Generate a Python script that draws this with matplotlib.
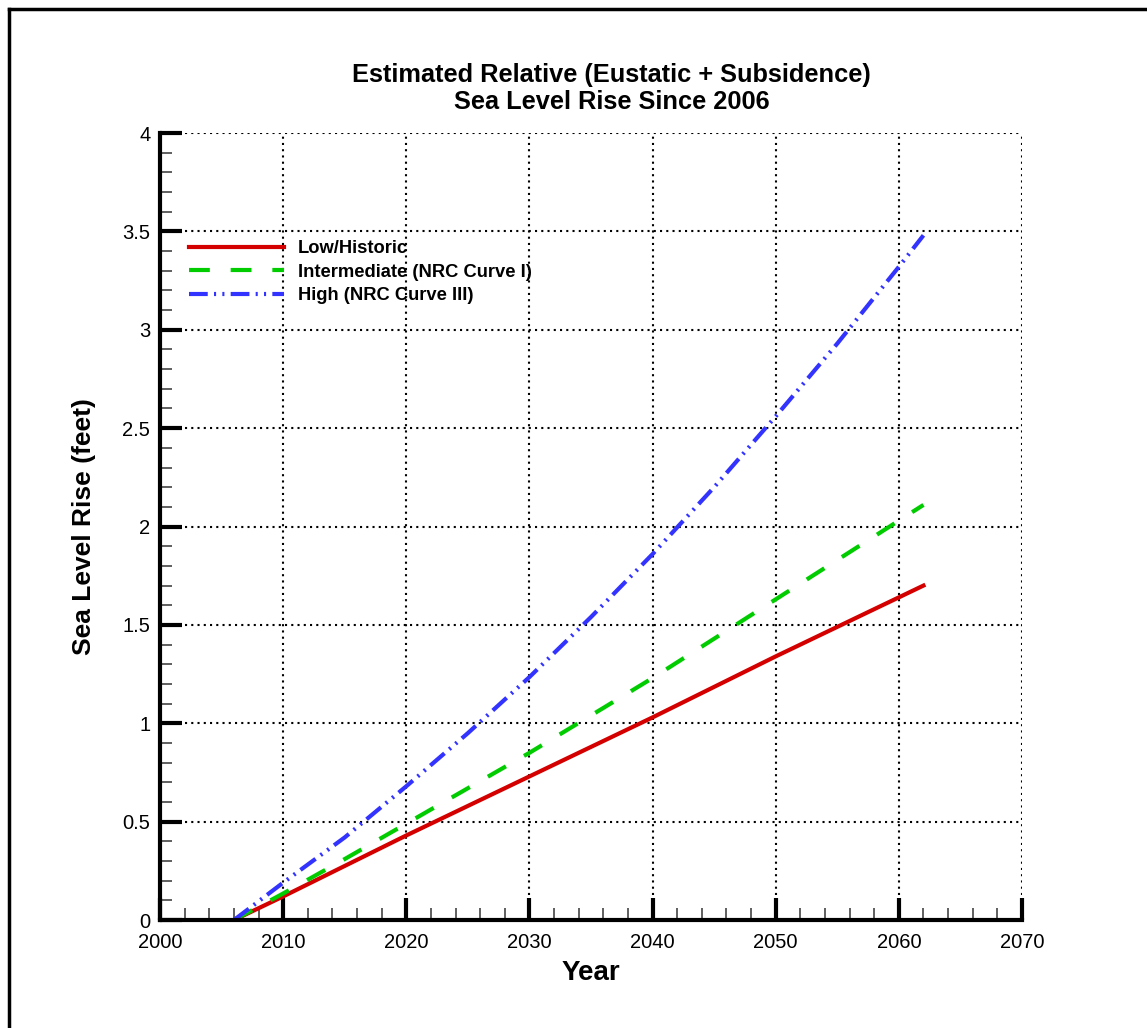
import matplotlib
matplotlib.use('Agg')
import matplotlib.pyplot as plt
from matplotlib.lines import Line2D
from matplotlib.ticker import MultipleLocator

plt.rcParams['font.family'] = ['Liberation Sans', 'DejaVu Sans']

# Data (feet of rise since 2006)
years = [2006, 2010, 2015, 2020, 2025, 2030, 2035, 2040, 2045, 2050, 2055, 2060, 2062]
low = [0, 0.12, 0.275, 0.43, 0.58, 0.73, 0.88, 1.03, 1.185, 1.34, 1.49, 1.64, 1.70]
intermediate = [0, 0.135, 0.31, 0.49, 0.67, 0.85, 1.04, 1.23, 1.43, 1.63, 1.83, 2.03, 2.11]
high = [0, 0.19, 0.42, 0.68, 0.95, 1.235, 1.54, 1.86, 2.20, 2.56, 2.93, 3.32, 3.48]
labels = ['Low/Historic', 'Intermediate (NRC Curve I)', 'High (NRC Curve III)']
yticks = [0, 0.5, 1, 1.5, 2, 2.5, 3, 3.5, 4]
yticklabels = ['0', '0.5', '1', '1.5', '2', '2.5', '3', '3.5', '4']

fig = plt.figure(figsize=(11.47, 10.28), dpi=100)
ax = fig.add_axes([0.1395, 0.105, 0.7515, 0.7656])

ax.plot(years, low, color='#d40000', lw=3, label=labels[0])
ax.plot(years, intermediate, color='#00cc00', lw=3, dashes=(5, 5), label=labels[1])
ax.plot(years, high, color='#3333ff', lw=3, dashes=(4.5, 1.5, 0.5, 1.5, 0.5, 1.5), label=labels[2])

ax.set_xlim(2000, 2070)
ax.set_ylim(0, 4)
ax.xaxis.set_major_locator(MultipleLocator(10))
ax.xaxis.set_minor_locator(MultipleLocator(2))
ax.set_yticks(yticks)
ax.set_yticklabels(yticklabels)
ax.yaxis.set_minor_locator(MultipleLocator(0.1))

ax.grid(True, which='major', color='black', linestyle=(0, (1, 2)), lw=1.5)
ax.set_axisbelow(True)

for side in ['top', 'right']:
    ax.spines[side].set_visible(False)
for side in ['left', 'bottom']:
    ax.spines[side].set_linewidth(3)

ax.tick_params(which='major', direction='in', length=16, width=3, labelsize=14.5)
ax.tick_params(axis='x', which='major', pad=9)
ax.tick_params(axis='y', which='major', pad=7)
ax.tick_params(which='minor', direction='in', length=8.5, width=1.2, color='#444444')
ax.tick_params(top=False, right=False, which='both')

ax.set_xlabel('Year', fontsize=20, fontweight='bold', labelpad=6)
ax.set_ylabel('Sea Level Rise (feet)', fontsize=19, fontweight='bold', labelpad=19)

fig.text(0.533, 0.914, 'Estimated Relative (Eustatic + Subsidence)\nSea Level Rise Since 2006',
         ha='center', va='center', fontsize=18.3, fontweight='bold', linespacing=1.2)

ax.legend(loc='upper left', bbox_to_anchor=(0.0336, 0.864), frameon=False,
          borderpad=0, borderaxespad=0, handlelength=5.2, handletextpad=0.75,
          labelspacing=0.36, prop={'size': 13.2, 'weight': 'bold'})

# page frame (top and left edges)
fig.add_artist(Line2D([0.008, 1.0], [0.9915, 0.9915], color='black', lw=2.5))
fig.add_artist(Line2D([0.008, 0.008], [0.0, 0.9915], color='black', lw=2.5))

fig.savefig('out.png', dpi=100)
